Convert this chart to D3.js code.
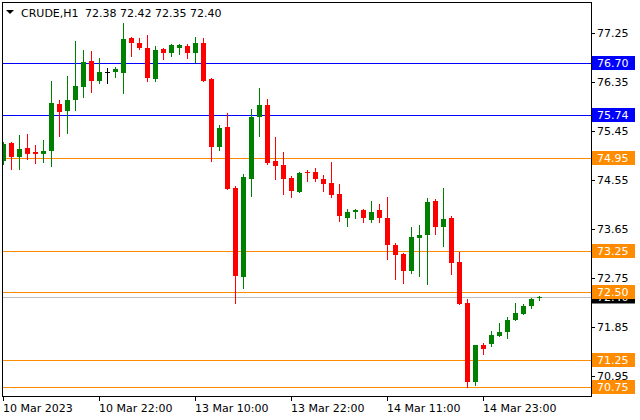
<!DOCTYPE html>
<html>
<head>
<meta charset="utf-8">
<script src="https://cdn.jsdelivr.net/npm/d3@7"></script>
<style>
  html, body { margin: 0; padding: 0; background: #fff; }
  svg { display: block; }
  text { font-family: "DejaVu Sans", sans-serif; font-size: 11px; }
</style>
</head>
<body>
<svg id="chart" width="640" height="420"></svg>
<script>
// ---- data ----
const symbol = "CRUDE,H1";
const opens  = [74.89,75.23,74.98,75.14,75.06,75.02,75.09,75.95,75.82,76.02,76.26,76.74,76.36,76.53,76.54,76.52,77.16,77.07,76.97,76.41,76.96,76.89,76.98,77.01,76.89,77.07,76.41,75.16,75.52,74.40,72.77,74.57,75.71,75.93,74.90,74.83,74.59,74.33,74.70,74.69,74.57,74.49,74.30,73.86,73.96,74.00,73.82,73.99,73.86,73.36,73.19,72.87,73.49,73.54,74.16,73.69,73.85,73.04,72.29,70.84,71.52,71.54,71.69,71.76,71.97,72.08,72.24,72.38];
const highs  = [75.25,75.25,75.38,75.40,75.19,75.29,76.37,76.02,76.46,77.10,76.94,76.92,76.79,76.61,76.63,77.43,77.17,77.16,77.21,77.01,76.97,77.04,77.05,77.05,77.18,77.16,76.42,75.56,75.78,74.44,74.66,75.85,76.24,76.04,75.34,75.06,74.62,74.70,74.74,74.77,74.64,74.88,74.48,74.02,74.02,74.01,74.17,74.11,74.24,73.40,73.20,73.69,73.72,74.22,74.20,74.40,73.89,73.23,72.36,71.52,71.56,71.78,71.92,72.03,72.29,72.27,72.38,72.42];
const lows   = [74.84,74.75,74.75,74.94,74.87,74.88,74.81,75.35,75.42,75.84,76.08,76.17,76.34,76.34,76.45,76.15,76.83,76.96,76.36,76.37,76.78,76.83,76.87,76.80,76.72,76.36,74.90,75.11,74.38,72.30,72.57,74.26,75.36,74.85,74.56,74.30,74.24,74.33,74.54,74.54,74.35,74.24,73.80,73.71,73.86,73.78,73.78,73.78,73.09,72.74,72.66,72.85,72.79,72.64,73.56,73.34,72.83,72.28,70.75,70.79,71.36,71.51,71.69,71.65,71.97,72.08,72.20,72.35];
const closes = [75.22,74.98,75.12,75.03,75.03,75.08,75.96,75.80,76.02,76.28,76.72,76.36,76.53,76.53,76.59,77.14,77.07,76.97,76.43,76.94,76.89,77.03,77.03,76.89,77.07,76.37,75.16,75.50,74.39,72.79,74.60,75.71,75.93,74.87,74.81,74.57,74.35,74.68,74.67,74.56,74.48,74.28,73.88,73.97,73.99,73.86,73.97,73.86,73.36,73.18,72.87,73.50,73.54,74.15,73.69,73.83,73.03,72.28,70.84,71.52,71.45,71.70,71.76,71.98,72.11,72.23,72.36,72.40];
const timeTickLabels = ["10 Mar 2023","10 Mar 22:00","13 Mar 10:00","13 Mar 22:00","14 Mar 11:00","14 Mar 23:00"];
const timeTickBars   = [0,12,24,36,48,60];
const priceTicks = [77.25,76.35,75.45,74.55,73.65,72.75,71.85,70.95];
const blueLevels = [76.70,75.74];
const orangeLevels = [74.95,73.25,72.50,71.25,70.75];
const bidPrice = 72.40;

// ---- layout ----
const L = 2, R = 591, T = 2, B = 396;
const svg = d3.select("#chart");

const x = d3.scaleLinear().domain([0, opens.length - 1]).range([3, 3 + 8 * (opens.length - 1)]);
const y = d3.scaleLinear().domain([70.95, 77.25]).range([376, 33]);

const candles = opens.map((o, i) => ({i, o, h: highs[i], l: lows[i], c: closes[i]}));
const colorOf = d => d.c > d.o ? "#008000" : (d.c < d.o ? "#ff0000" : "#000000");

svg.append("defs").append("clipPath").attr("id", "plotclip")
  .append("rect").attr("x", L + 1).attr("y", T + 1).attr("width", R - L - 1).attr("height", B - T - 1);

const plot = svg.append("g").attr("clip-path", "url(#plotclip)");

// bid line
plot.append("line").attr("x1", L).attr("x2", R)
  .attr("y1", Math.round(y(bidPrice)) + 0.5).attr("y2", Math.round(y(bidPrice)) + 0.5)
  .attr("stroke", "#c0c0c0").attr("stroke-width", 1);

// level lines
plot.selectAll("line.blue").data(blueLevels).enter().append("line")
  .attr("x1", L).attr("x2", R)
  .attr("y1", d => Math.round(y(d)) + 0.5).attr("y2", d => Math.round(y(d)) + 0.5)
  .attr("stroke", "#0000ff").attr("stroke-width", 1);
plot.selectAll("line.orange").data(orangeLevels).enter().append("line")
  .attr("x1", L).attr("x2", R)
  .attr("y1", d => Math.round(y(d)) + 0.5).attr("y2", d => Math.round(y(d)) + 0.5)
  .attr("stroke", "#ff8c00").attr("stroke-width", 1);

// candles
const cg = plot.selectAll("g.candle").data(candles).enter().append("g");
cg.append("line")
  .attr("x1", d => Math.round(x(d.i)) + 0.5).attr("x2", d => Math.round(x(d.i)) + 0.5)
  .attr("y1", d => Math.round(y(d.h))).attr("y2", d => Math.round(y(d.l)) + 1)
  .attr("stroke", colorOf).attr("stroke-width", 1);
cg.append("rect")
  .attr("x", d => Math.round(x(d.i)) - 2)
  .attr("width", 5)
  .attr("y", d => Math.round(y(Math.max(d.o, d.c))))
  .attr("height", d => Math.max(1, Math.round(y(Math.min(d.o, d.c))) - Math.round(y(Math.max(d.o, d.c)))))
  .attr("fill", colorOf);

// frame
svg.append("rect").attr("x", L + 0.5).attr("y", T + 0.5).attr("width", R - L).attr("height", B - T)
  .attr("fill", "none").attr("stroke", "#000").attr("stroke-width", 1);

// right axis ticks & labels
const ra = svg.append("g");
ra.selectAll("line").data(priceTicks).enter().append("line")
  .attr("x1", R).attr("x2", R + 4)
  .attr("y1", d => Math.round(y(d)) + 0.5).attr("y2", d => Math.round(y(d)) + 0.5)
  .attr("stroke", "#000");
ra.selectAll("text").data(priceTicks).enter().append("text")
  .attr("x", 597).attr("y", d => Math.round(y(d)) + 4)
  .attr("fill", "#000").text(d => d.toFixed(2));

// price tags
function tag(v, bg, h) {
  const yy = Math.round(y(v));
  svg.append("rect").attr("x", R + 1).attr("y", yy - h / 2).attr("width", 43).attr("height", h).attr("fill", bg);
  svg.append("text").attr("x", 597).attr("y", yy + 4).attr("fill", "#fff").text(v.toFixed(2));
}
tag(bidPrice, "#000000", 13);
blueLevels.forEach(v => tag(v, "#0000ff", 14));
orangeLevels.forEach(v => tag(v, "#ff8c00", 14));

// bottom axis
const ba = svg.append("g");
ba.selectAll("line").data(timeTickBars).enter().append("line")
  .attr("x1", d => Math.round(x(d)) + 0.5).attr("x2", d => Math.round(x(d)) + 0.5)
  .attr("y1", B).attr("y2", B + 5).attr("stroke", "#000");
ba.selectAll("text").data(timeTickBars).enter().append("text")
  .attr("x", d => Math.round(x(d)))
  .attr("y", 412).attr("fill", "#000")
  .text((d, k) => timeTickLabels[k]);

// title
svg.append("path").attr("d", "M6,10 L14,10 L10,14 Z").attr("fill", "#000");
svg.append("text").attr("x", 21).attr("y", 17).attr("fill", "#000").text(symbol);
svg.append("text").attr("x", 85).attr("y", 17).attr("fill", "#000")
  .text([opens[opens.length-1], highs[highs.length-1], lows[lows.length-1], closes[closes.length-1]].map(v => v.toFixed(2)).join(" "));
</script>
</body>
</html>
